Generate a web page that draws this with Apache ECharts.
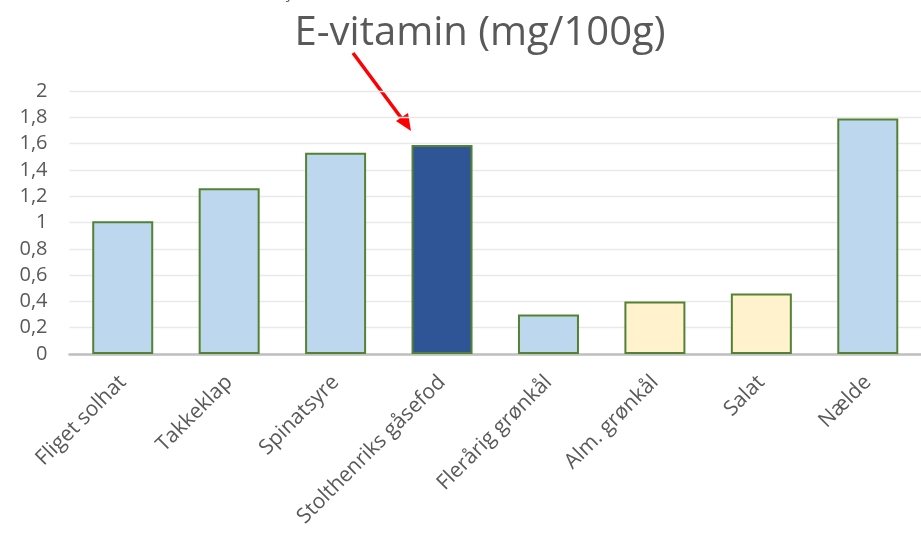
<!DOCTYPE html>
<html><head><meta charset="utf-8">
<script src="https://cdn.jsdelivr.net/npm/echarts@6/dist/echarts.min.js"></script>
<style>html,body{margin:0;padding:0;background:#fff}#c{width:921px;height:537px}</style>
</head><body><div id="c"></div>
<script>
const categories = ["Fliget solhat","Takkeklap","Spinatsyre","Stolthenriks gåsefod","Flerårig grønkål","Alm. grønkål","Salat","Nælde"];
const values = [1.01, 1.26, 1.53, 1.59, 0.30, 0.40, 0.46, 1.79];
const colorGroup = ["light","light","light","dark","light","yellow","yellow","light"];
const palette = {light:"#BDD7EE", dark:"#2F5597", yellow:"#FFF2CC"};
const yTicks = [0,0.2,0.4,0.6,0.8,1,1.2,1.4,1.6,1.8,2];
const font = "'Open Sans', 'Liberation Sans', sans-serif";

const chart = echarts.init(document.getElementById('c'), null, {renderer:'canvas'});
chart.setOption({
  animation:false,
  backgroundColor:'#fff',
  title:{text:'E-vitamin (mg/100g)', left:475, top:9, textAlign:'center',
    textStyle:{fontFamily:font, fontSize:40, fontWeight:'normal', color:'#595959'}},
  grid:{left:69.5, right:-4.5, top:91, bottom:183, containLabel:false},
  xAxis:{type:'category', data:categories,
    axisLine:{lineStyle:{color:'#BFBFBF', width:2.5}},
    axisTick:{show:false},
    axisLabel:{rotate:45, interval:0, fontFamily:font, fontSize:21, color:'#595959', margin:25}},
  yAxis:{type:'value', min:0, max:2, interval:0.2,
    axisLine:{show:false}, axisTick:{show:false},
    splitLine:{lineStyle:{color:'#E9E9E9', width:1.3}},
    axisLabel:{fontFamily:font, fontSize:20, color:'#595959', margin:22,
      formatter:v=>{const t=yTicks.find(x=>Math.abs(x-v)<1e-6); return String(t!==undefined?t:v).replace('.',',');}}},
  series:[{type:'bar', barWidth:61,
    data:values.map((v,i)=>({value:v, itemStyle:{color:palette[colorGroup[i]]}})),
    itemStyle:{borderColor:'#548235', borderWidth:2}}],
  graphic:[
    {type:'text', left:283, top:-16, style:{text:'Ş', font:"18px "+font, fill:'#595959'}},
    {type:'line', shape:{x1:353,y1:53,x2:402,y2:119}, style:{stroke:'#FF0000', lineWidth:3.5}},
    {type:'polygon', shape:{points:[[411,131],[396,121],[408,113]]}, style:{fill:'#FF0000'}}
  ]
});
</script></body></html>
